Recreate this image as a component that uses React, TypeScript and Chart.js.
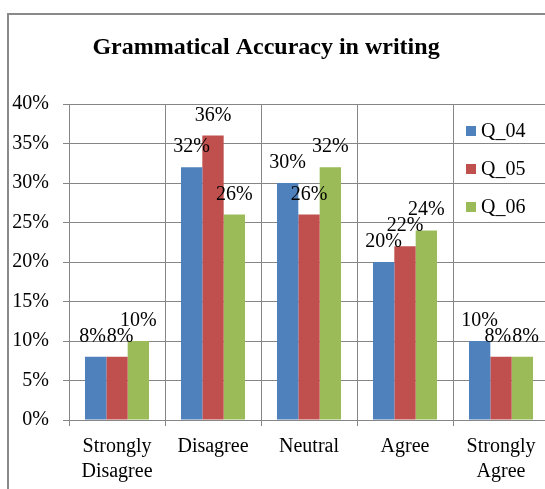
import React, { useEffect, useRef } from "react";
import { Chart, registerables } from "chart.js";

Chart.register(...registerables);

const titleText = "Grammatical Accuracy in writing";
const categories: string[][] = [
  ["Strongly", "Disagree"],
  ["Disagree"],
  ["Neutral"],
  ["Agree"],
  ["Strongly", "Agree"],
];
const seriesNames = ["Q_04", "Q_05", "Q_06"];
const q04 = [8, 32, 30, 20, 10];
const q05 = [8, 36, 26, 22, 8];
const q06 = [10, 26, 32, 24, 8];
const seriesColors = ["#4F81BD", "#C0504D", "#9BBB59"];
const yMin = 0;
const yMax = 40;
const yStep = 5;

const FONT = '"Liberation Serif", "Times New Roman", serif';
const GRID = "#868686";

const titlePlugin = {
  id: "customTitle",
  afterDraw(chart: any) {
    const ctx = chart.ctx;
    ctx.save();
    ctx.font = `bold 24px ${FONT}`;
    ctx.fillStyle = "#000";
    ctx.textAlign = "center";
    ctx.textBaseline = "middle";
    ctx.fillText(titleText, 266, 48);
    ctx.restore();
  },
};

const labelPlugin = {
  id: "barLabels",
  afterDatasetsDraw(chart: any) {
    const ctx = chart.ctx;
    ctx.save();
    ctx.font = `20px ${FONT}`;
    ctx.fillStyle = "#000";
    ctx.textAlign = "center";
    ctx.textBaseline = "alphabetic";
    const n = chart.data.labels.length;
    for (let i = 0; i < n; i++) {
      const items: any[] = [];
      chart.data.datasets.forEach((ds: any, di: number) => {
        const bar = chart.getDatasetMeta(di).data[i];
        const text = ds.data[i] + "%";
        items.push({ text, x: bar.x, y: bar.y - 15, w: ctx.measureText(text).width });
      });
      // simple horizontal separation of labels sitting at the same height
      for (let pass = 0; pass < 4; pass++) {
        for (let k = 1; k < items.length; k++) {
          const a = items[k - 1];
          const b = items[k];
          if (Math.abs(a.y - b.y) < 12) {
            const overlap = a.x + a.w / 2 + 1 - (b.x - b.w / 2);
            if (overlap > 0) {
              a.x -= overlap / 2;
              b.x += overlap / 2;
            }
          }
        }
      }
      items.forEach((it) => ctx.fillText(it.text, it.x, it.y));
    }
    ctx.restore();
  },
};

const legendPlugin = {
  id: "customLegend",
  afterDraw(chart: any) {
    const ctx = chart.ctx;
    ctx.save();
    ctx.font = `20px ${FONT}`;
    ctx.textBaseline = "middle";
    ctx.textAlign = "left";
    chart.data.datasets.forEach((ds: any, di: number) => {
      const y = 131 + di * 38;
      ctx.fillStyle = ds.backgroundColor;
      ctx.fillRect(466, y - 5, 10, 10);
      ctx.fillStyle = "#000";
      ctx.fillText(ds.label, 481, y + 1);
    });
    ctx.restore();
  },
};

export default function App() {
  const ref = useRef<HTMLCanvasElement>(null);
  useEffect(() => {
    if (!ref.current) return;
    const chart = new Chart(ref.current, {
      type: "bar",
      data: {
        labels: categories,
        datasets: [q04, q05, q06].map((d, i) => ({
          label: seriesNames[i],
          data: d,
          backgroundColor: seriesColors[i],
          borderWidth: 0,
          categoryPercentage: 0.667,
          barPercentage: 1,
        })),
      },
      options: {
        animation: false,
        responsive: false,
        maintainAspectRatio: false,
        layout: { padding: { top: 104, left: 0, right: 71, bottom: 20 } },
        plugins: {
          legend: { display: false },
          title: { display: false },
          tooltip: { enabled: false },
        },
        scales: {
          x: {
            grid: { offset: true, color: GRID, lineWidth: 1, tickLength: 6, drawTicks: true },
            border: { color: GRID, width: 1 },
            ticks: {
              color: "#000",
              font: { family: FONT, size: 20, lineHeight: 1.25 },
              padding: 8,
              maxRotation: 0,
              autoSkip: false,
            },
            afterFit: (s: any) => {
              s.height = 80;
            },
          },
          y: {
            min: yMin,
            max: yMax,
            grid: { color: GRID, lineWidth: 1, tickLength: 6 },
            border: { color: GRID, width: 1 },
            ticks: {
              stepSize: yStep,
              color: "#000",
              font: { family: FONT, size: 20 },
              padding: 14,
              callback: (v: any) => v + "%",
            },
            afterFit: (s: any) => {
              s.width = 69;
            },
          },
        },
      },
      plugins: [titlePlugin, labelPlugin, legendPlugin],
    });
    return () => chart.destroy();
  }, []);

  return (
    <div
      style={{
        position: "absolute",
        left: 0,
        top: 0,
        width: 545,
        height: 489,
        overflow: "hidden",
        background: "#fff",
      }}
    >
      <canvas
        ref={ref}
        width={620}
        height={520}
        style={{ position: "absolute", left: 0, top: 0, width: 620, height: 520 }}
      />
      <div
        style={{
          position: "absolute",
          left: 7,
          top: 13,
          width: 640,
          height: 560,
          border: "2px solid #8a8a8a",
          boxSizing: "border-box",
          pointerEvents: "none",
        }}
      />
    </div>
  );
}
